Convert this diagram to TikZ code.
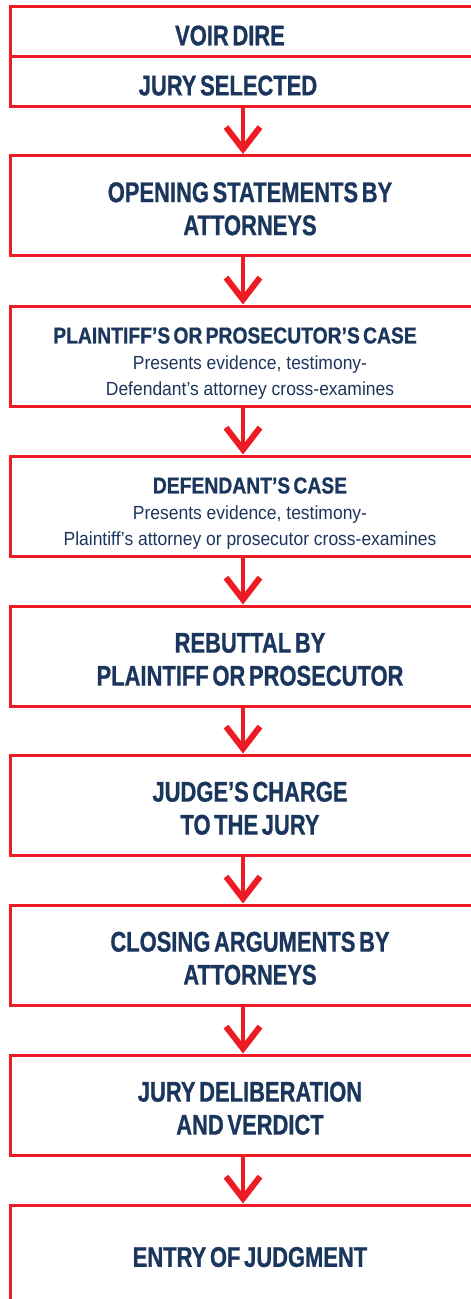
\documentclass[tikz,border=0pt]{standalone}
\usepackage{fontspec}
\usepackage{xcolor}
\usetikzlibrary{arrows.meta}
\setmainfont{Liberation Sans}
\newfontfamily\headfont{Liberation Sans}[FakeStretch=0.77, WordSpace=0.6, BoldFeatures={FakeBold=0.8}]
\newfontfamily\caseheadfont{Liberation Sans}[FakeStretch=0.84, WordSpace=0.6, BoldFeatures={FakeBold=0.8}]
\newfontfamily\casefont{Liberation Sans}[FakeStretch=0.92]
\definecolor{boxred}{RGB}{237,28,36}
\definecolor{navy}{RGB}{27,54,93}
\newcommand{\stephead}{\headfont\bfseries\fontsize{28.5}{33}\selectfont}
\newcommand{\casehead}{\caseheadfont\bfseries\fontsize{23}{26}\selectfont}
\newcommand{\casetext}{\casefont\fontsize{19}{26}\selectfont}

\begin{document}
\begin{tikzpicture}[x=1pt, y=-1pt,
  stepbox/.style={draw=boxred, line width=3pt, minimum width=479pt, minimum height=100pt,
    inner sep=0pt, align=center, text=navy, font=\stephead, text height=59.5pt},
  halfbox/.style={stepbox, minimum height=50pt, text height=27.5pt},
  casebox/.style={stepbox, font=\casetext, text height=82.8pt},
  flow/.style={draw=boxred, line width=4pt, -{Straight Barb[length=22pt, width=34pt, line width=6pt]}}]
\useasboundingbox (0,0) rectangle (471,1299);

\node[halfbox] (voir) at (250, 31.75) {\hspace*{-40pt}VOIR DIRE};
\node[halfbox] (jury) at (250, 81.75) {\hspace*{-44pt}JURY SELECTED};
\node[stepbox] (opening) at (250, 205.5) {OPENING STATEMENTS BY\\ATTORNEYS};
\node[casebox] (plaintiff) at (250, 356) {{\casehead\hspace*{-30pt}PLAINTIFF’S OR PROSECUTOR’S CASE}\\
  Presents evidence, testimony-\\Defendant’s attorney cross-examines};
\node[casebox] (defendant) at (250, 506) {{\casehead DEFENDANT’S CASE}\\
  Presents evidence, testimony-\\Plaintiff’s attorney or prosecutor cross-examines};
\node[stepbox] (rebuttal) at (250, 656) {REBUTTAL BY\\PLAINTIFF OR PROSECUTOR};
\node[stepbox] (charge) at (250, 805) {JUDGE’S CHARGE\\TO THE JURY};
\node[stepbox] (closing) at (250, 955) {CLOSING ARGUMENTS BY\\ATTORNEYS};
\node[stepbox] (deliberation) at (250, 1105) {JURY DELIBERATION\\AND VERDICT};
\node[stepbox, text height=24pt] (judgment) at (250, 1255) {ENTRY OF JUDGMENT};

\draw[flow] ([xshift=-7pt]jury.south) -- ([xshift=-7pt]opening.north);
\draw[flow] ([xshift=-7pt]opening.south) -- ([xshift=-7pt]plaintiff.north);
\draw[flow] ([xshift=-7pt]plaintiff.south) -- ([xshift=-7pt]defendant.north);
\draw[flow] ([xshift=-7pt]defendant.south) -- ([xshift=-7pt]rebuttal.north);
\draw[flow] ([xshift=-7pt]rebuttal.south) -- ([xshift=-7pt]charge.north);
\draw[flow] ([xshift=-7pt]charge.south) -- ([xshift=-7pt]closing.north);
\draw[flow] ([xshift=-7pt]closing.south) -- ([xshift=-7pt]deliberation.north);
\draw[flow] ([xshift=-7pt]deliberation.south) -- ([xshift=-7pt]judgment.north);
\end{tikzpicture}
\end{document}
